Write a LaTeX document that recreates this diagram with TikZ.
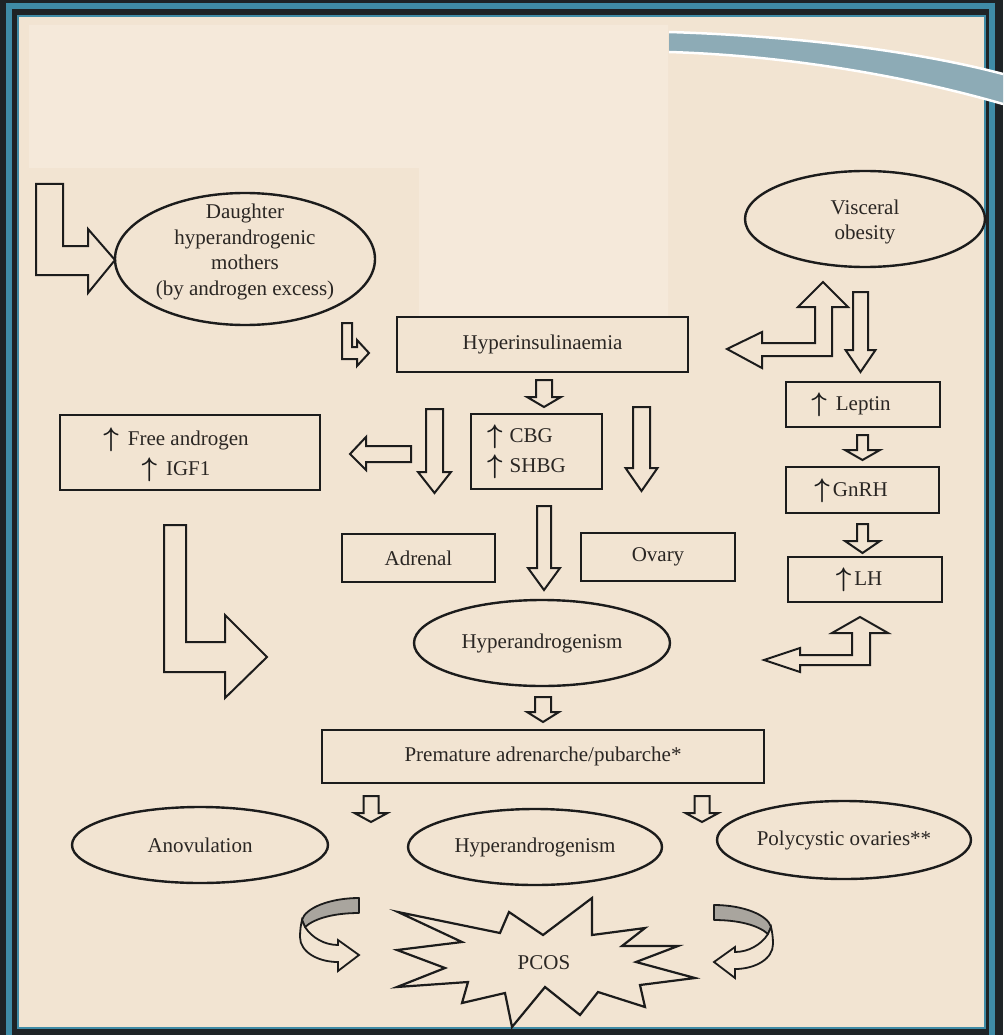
\documentclass[tikz,border=0pt]{standalone}
\usepackage{bm}
\usepackage{graphicx}
\usepackage{fontspec}
\setmainfont{Liberation Serif}
\usetikzlibrary{shapes.geometric}
\definecolor{framedark}{HTML}{1E2326}
\definecolor{frameteal}{HTML}{3F8BA6}
\definecolor{paper}{HTML}{F2E4D2}
\definecolor{paperlight}{HTML}{F5E9DA}
\definecolor{ribbon}{HTML}{8DABB6}
\definecolor{ink}{HTML}{1C1C1C}
\definecolor{txt}{HTML}{2A2623}
\definecolor{ribgrey}{HTML}{A9A59E}
\newcommand\uarr{{\color{ink}\raisebox{-1.5pt}{\scalebox{1.3}{$\bm{\uparrow}$}}}}
\newcommand\DownArr[6]{\draw[blk] (#1-#5,#2) -- (#1+#5,#2) -- (#1+#5,#3) -- (#1+#6,#3) -- (#1,#4) -- (#1-#6,#3) -- (#1-#5,#3) -- cycle;}
\newcommand\CurlArr{%
  \draw[ink, line width=1.8, fill=ribgrey, line join=round] (359,898) .. controls (330,898) and (305,908) .. (302,920) -- (305,927) .. controls (315,918) and (335,913) .. (359,913) -- cycle;
  \draw[ink, line width=1.8, fill=paper, line join=miter] (305,927) .. controls (312,938) and (325,945) .. (338,945) -- (338,940) -- (359,955) -- (338,971) -- (338,962) .. controls (318,962) and (300,952) .. (300,937) .. controls (300,930) and (301,924) .. (302,920) -- cycle;}
\tikzset{
  box/.style={draw=ink, line width=2.4, rectangle, inner sep=0pt},
  oval/.style={draw=ink, line width=2.4, ellipse, inner sep=0pt},
  lbl/.style={font=\fontsize{21}{25.5}\selectfont, text=txt, inner sep=0pt, align=center},
  lblwide/.style={font=\fontsize{21}{30}\selectfont, text=txt, inner sep=0pt},
  blk/.style={draw=ink, line width=2, fill=paper, line join=miter},
}
\begin{document}
\begin{tikzpicture}[x=1pt, y=-1pt]
\useasboundingbox (0,0) rectangle (1003,1035);
\clip (0,0) rectangle (1003,1035);
% frame
\fill[framedark] (0,0) rectangle (1003,1035);
\draw[frameteal, line width=6] (9,6) rectangle (992,1050);
\fill[paper] (18,16) rectangle (985,1028);
\draw[frameteal, line width=2] (18,16) rectangle (985,1028);
\fill[paperlight] (29,25) -- (668,25) -- (668,318) -- (419,318) -- (419,168) -- (29,168) -- cycle;
% ribbon
\fill[ribbon] (669,32) .. controls (800,36) and (920,52) .. (1003,74) -- (1003,104) .. controls (920,80) and (800,56) .. (669,52) -- cycle;
\draw[white, line width=2.5] (669,32) .. controls (800,36) and (920,52) .. (1003,74);
\draw[white, line width=2.5] (669,52) .. controls (800,56) and (920,80) .. (1003,104);

% nodes
\node[oval, minimum width=260, minimum height=132] (daughter) at (245,259) {};
\node[lbl] (daughtertxt) at (245,252) {Daughter\\hyperandrogenic\\mothers\\(by androgen excess)};
\node[oval, lbl, minimum width=240, minimum height=96] (visceral) at (865,219) {};
\node[lbl] (visceraltxt) at (865,222) {Visceral\\obesity};
\node[box, lbl, minimum width=291, minimum height=55] (hyper) at (542.5,344.5) {Hyperinsulinaemia};
\node[box, minimum width=131, minimum height=75] (cbg) at (536.5,451.5) {};
\node[lblwide, align=left, anchor=west] (cbgtxt) at (487,452) {\uarr\hspace{7pt}CBG\\\uarr\hspace{7pt}SHBG};
\node[box, minimum width=260, minimum height=75] (free) at (190,452.5) {};
\node[lblwide, align=center] (freetxt) at (176,455) {\uarr\hspace{9pt}Free androgen\\\uarr\hspace{9pt}IGF1};
\node[box, minimum width=154, minimum height=45] (leptin) at (863,404.5) {};
\node[lbl] (leptintxt) at (851,405) {\uarr\hspace{9pt}Leptin};
\node[box, minimum width=153, minimum height=46] (gnrh) at (862.5,490) {};
\node[lbl] (gnrhtxt) at (851,491) {\uarr\hspace{3pt}GnRH};
\node[box, minimum width=154, minimum height=45] (lh) at (865,579.5) {};
\node[lbl] (lhtxt) at (859,580) {\uarr\hspace{3pt}LH};
\node[box, lbl, minimum width=153, minimum height=48] (adrenal) at (418.5,558) {Adrenal};
\node[box, lbl, minimum width=154, minimum height=48] (ovary) at (658,557) {Ovary};
\node[oval, lbl, minimum width=256, minimum height=86] (hyperA) at (542,643) {Hyperandrogenism};
\node[box, lbl, minimum width=442, minimum height=53] (premature) at (543,756.5) {Premature adrenarche/pubarche*};
\node[oval, lbl, minimum width=256, minimum height=76] (anov) at (200,845) {Anovulation};
\node[oval, lbl, minimum width=254, minimum height=76] (hyperB) at (535,847) {Hyperandrogenism};
\node[oval, lbl, minimum width=254, minimum height=78] (poly) at (844,840) {Polycystic ovaries**};

% block arrows
\draw[blk] (36,184) -- (63,184) -- (63,246) -- (88,246) -- (88,229) -- (115,260) -- (88,293) -- (88,275) -- (36,275) -- cycle;
\draw[blk] (342,323) -- (352,323) -- (352,347) -- (357,347) -- (357,340) -- (369,353) -- (357,366) -- (357,359) -- (342,359) -- cycle;
\draw[blk] (164,525) -- (186,525) -- (186,642) -- (225,642) -- (225,615) -- (267,657) -- (225,698) -- (225,672) -- (164,672) -- cycle;
\draw[blk] (823,282) -- (848,307) -- (832,307) -- (832,356) -- (762,356) -- (762,368) -- (727,349) -- (762,332) -- (762,343) -- (815,343) -- (815,307) -- (798,307) -- cycle;
\draw[blk] (860,617) -- (888,633) -- (870,633) -- (870,665) -- (800,665) -- (800,672) -- (764,660) -- (800,648) -- (800,655) -- (852,655) -- (852,633) -- (832,633) -- cycle;
\draw[blk] (411,446) -- (366,446) -- (366,437) -- (350,454) -- (366,470) -- (366,462) -- (411,462) -- cycle;
\DownArr{544}{380}{397}{407}{8}{17}
\DownArr{434.5}{409}{472}{493}{8.5}{16.5}
\DownArr{641.5}{407}{468}{491}{8.5}{16}
\DownArr{860.5}{292}{350}{372}{7.5}{15}
\DownArr{862.5}{435}{450}{460}{5.5}{17.5}
\DownArr{862.5}{524}{541}{553}{5.5}{17.5}
\DownArr{544}{506}{568}{590}{7}{16}
\DownArr{543}{697}{712}{722}{8}{16}
\DownArr{371}{796}{813}{822}{7.5}{16.5}
\DownArr{702}{796}{813}{822}{7.5}{16.5}

% curved arrows
\CurlArr
\begin{scope}[shift={(1073,7)}, xscale=-1]
\CurlArr
\end{scope}

% PCOS burst
\draw[ink, line width=2.2, fill=paper, line join=miter]
 (398,912) -- (500,933) -- (509,912) -- (543,935) -- (592,898) -- (592,935) -- (645,928) -- (622,946) -- (678,946) -- (636,962) -- (695,978) -- (640,985) -- (645,1007) -- (598,992) -- (580,1015) -- (545,987) -- (512,1027) -- (505,993) -- (462,1003) -- (468,982) -- (397,987) -- (445,968) -- (397,950) -- (462,942) -- cycle;
\node[lbl] (pcos) at (544,963) {PCOS};
\end{tikzpicture}
\end{document}
